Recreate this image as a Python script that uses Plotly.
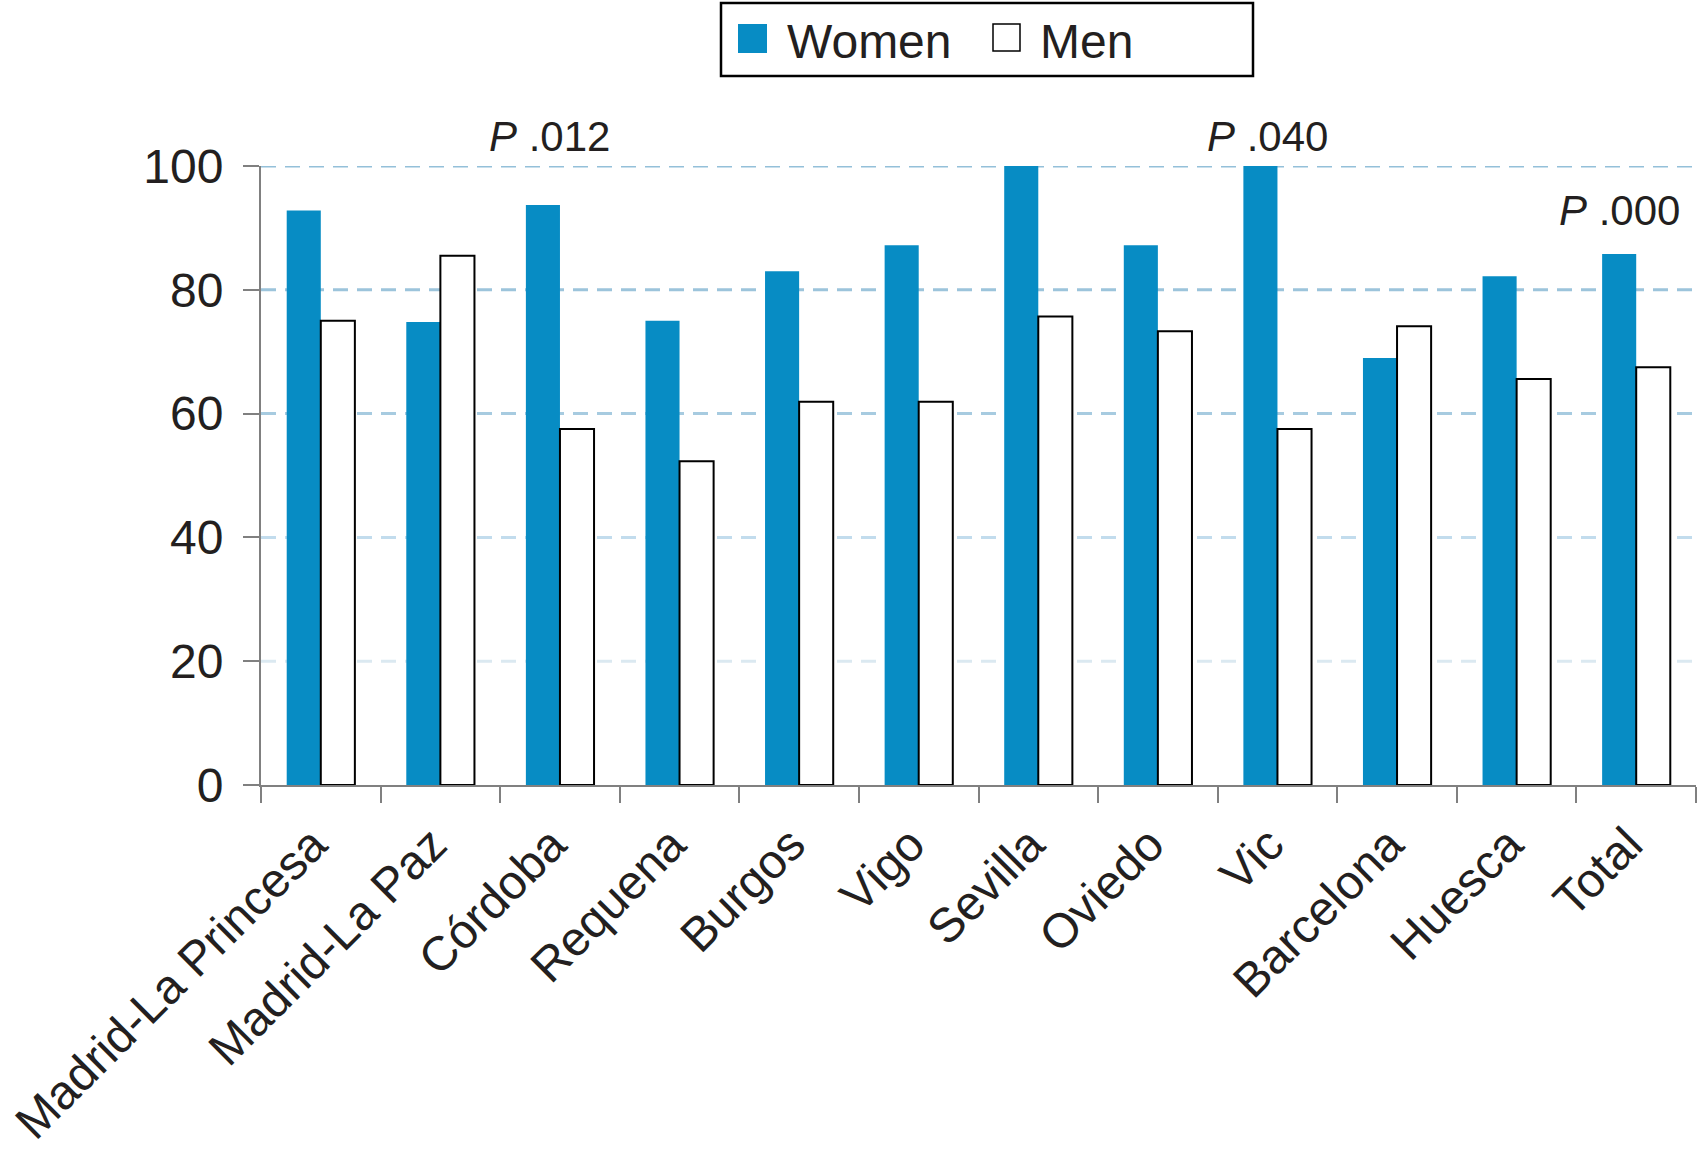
import plotly.graph_objects as go

categories = ["Madrid-La Princesa", "Madrid-La Paz", "Córdoba", "Requena", "Burgos",
              "Vigo", "Sevilla", "Oviedo", "Vic", "Barcelona", "Huesca", "Total"]
women = [92.8, 74.8, 93.7, 75.0, 83.0, 87.2, 100.0, 87.2, 100.0, 69.0, 82.2, 85.8]
men = [75.0, 85.5, 57.5, 52.3, 61.9, 61.9, 75.7, 73.3, 57.5, 74.1, 65.6, 67.5]
y_ticks = [0, 20, 40, 60, 80, 100]
p_categories = ["Córdoba", "Vic", "Total"]
p_texts = ["<i>P</i> .012", "<i>P</i> .040", "<i>P</i> .000"]

W, H = 1698, 1162
ML, MR, MT, MB = 261, 2, 166, 377
PW, PH = W - ML - MR, H - MT - MB

def px(x):
    return (x - ML) / PW

def py(y):
    return (H - MB - y) / PH

FONT = "Liberation Sans"
TXT = "#231f20"
BLUE = "#078cc4"

fig = go.Figure()
fig.add_trace(go.Bar(x=categories, y=women, name="Women", marker=dict(color=BLUE, line=dict(width=0)),
                     showlegend=False))
fig.add_trace(go.Bar(x=categories, y=men, name="Men",
                     marker=dict(color="white", line=dict(color="black", width=2)), showlegend=False))

grid_colors = {20: "#dbe9f1", 40: "#c2dced", 60: "#a7cbe0", 80: "#9cc4db", 100: "#94c0d9"}
shapes = []
for v in y_ticks[1:]:
    shapes.append(dict(type="line", xref="paper", yref="y", x0=0, x1=1, y0=v, y1=v, layer="below",
                       line=dict(color=grid_colors[v], width=3, dash="15px,9px")))

# manual legend
shapes.append(dict(type="rect", xref="paper", yref="paper", x0=px(721), x1=px(1253), y0=py(3), y1=py(76),
                   line=dict(color="black", width=2.5), fillcolor="white"))
shapes.append(dict(type="rect", xref="paper", yref="paper", x0=px(738), x1=px(767), y0=py(24), y1=py(53),
                   line=dict(width=0), fillcolor=BLUE))
shapes.append(dict(type="rect", xref="paper", yref="paper", x0=px(993), x1=px(1020), y0=py(24), y1=py(51),
                   line=dict(color="black", width=1.5), fillcolor="white"))

annotations = [
    dict(xref="paper", yref="paper", x=px(785), y=py(41), text="Women", showarrow=False,
         xanchor="left", yanchor="middle", font=dict(family=FONT, size=48, color=TXT)),
    dict(xref="paper", yref="paper", x=px(1038), y=py(41), text="Men", showarrow=False,
         xanchor="left", yanchor="middle", font=dict(family=FONT, size=48, color=TXT)),
]
p_pos = {"Córdoba": (100, -10), "Vic": (100, -10), "Total": (88, -17)}
for cat, txt in zip(p_categories, p_texts):
    yv, xs = p_pos[cat]
    annotations.append(dict(x=cat, y=yv, xref="x", yref="y", text=txt, showarrow=False,
                            xanchor="center", yanchor="bottom", xshift=xs, yshift=4,
                            font=dict(family=FONT, size=42, color=TXT)))

fig.update_layout(
    width=W, height=H,
    margin=dict(l=ML, r=MR, t=MT, b=MB),
    paper_bgcolor="white", plot_bgcolor="white",
    barmode="group", bargap=0.43, bargroupgap=0,
    shapes=shapes, annotations=annotations,
    font=dict(family=FONT, color=TXT),
)
fig.update_xaxes(
    type="category", showgrid=False, showline=True, linecolor="#808080", linewidth=2,
    ticks="outside", tickson="boundaries", ticklen=16, tickwidth=2, tickcolor="#808080",
    tickangle=-45, tickfont=dict(family=FONT, size=48, color=TXT), ticklabelstandoff=10,
    ticklabelshift=-8, automargin=False,
)
fig.update_yaxes(
    range=[0, 100], tickvals=y_ticks, showgrid=False, zeroline=False, showline=True,
    linecolor="#808080", linewidth=2, ticks="outside", ticklen=16, tickwidth=2, tickcolor="#808080",
    tickfont=dict(family=FONT, size=48, color=TXT), ticklabelstandoff=10, automargin=False,
)
fig.write_html("out.html", config={"displayModeBar": False},
               post_script="document.body.style.margin='0px';")
